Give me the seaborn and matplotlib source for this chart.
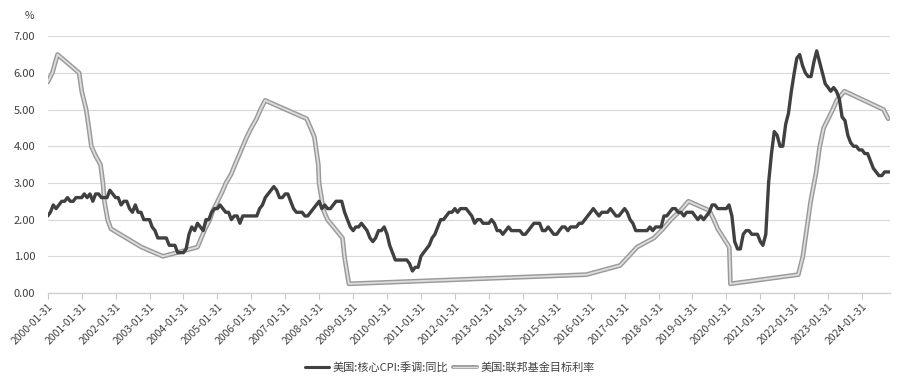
import matplotlib
matplotlib.use("Agg")
import matplotlib.pyplot as plt
from matplotlib.lines import Line2D
import matplotlib.patheffects as pe
import numpy as np
import pandas as pd
import seaborn as sns

sns.set_theme(style="white")
plt.rcParams["font.family"] = ["Noto Sans CJK SC", "DejaVu Sans"]

# ── core CPI YoY (seasonally adjusted), monthly 2000-01 .. 2024-11 ──────────
cpi_by_year = {
    2000: [2.1, 2.2, 2.4, 2.3, 2.4, 2.5, 2.5, 2.6, 2.5, 2.5, 2.6, 2.6],
    2001: [2.6, 2.7, 2.6, 2.7, 2.5, 2.7, 2.7, 2.6, 2.6, 2.6, 2.8, 2.7],
    2002: [2.6, 2.6, 2.4, 2.5, 2.5, 2.3, 2.2, 2.4, 2.2, 2.2, 2.0, 2.0],
    2003: [2.0, 1.8, 1.7, 1.5, 1.5, 1.5, 1.5, 1.3, 1.3, 1.3, 1.1, 1.1],
    2004: [1.1, 1.2, 1.6, 1.8, 1.7, 1.9, 1.8, 1.7, 2.0, 2.0, 2.2, 2.3],
    2005: [2.3, 2.4, 2.3, 2.2, 2.2, 2.0, 2.1, 2.1, 1.9, 2.1, 2.1, 2.1],
    2006: [2.1, 2.1, 2.1, 2.3, 2.4, 2.6, 2.7, 2.8, 2.9, 2.8, 2.6, 2.6],
    2007: [2.7, 2.7, 2.5, 2.3, 2.2, 2.2, 2.2, 2.1, 2.1, 2.2, 2.3, 2.4],
    2008: [2.5, 2.3, 2.4, 2.3, 2.3, 2.4, 2.5, 2.5, 2.5, 2.2, 2.0, 1.8],
    2009: [1.7, 1.8, 1.8, 1.9, 1.8, 1.7, 1.5, 1.4, 1.5, 1.7, 1.7, 1.8],
    2010: [1.6, 1.3, 1.1, 0.9, 0.9, 0.9, 0.9, 0.9, 0.8, 0.6, 0.7, 0.7],
    2011: [1.0, 1.1, 1.2, 1.3, 1.5, 1.6, 1.8, 2.0, 2.0, 2.1, 2.2, 2.2],
    2012: [2.3, 2.2, 2.3, 2.3, 2.3, 2.2, 2.1, 1.9, 2.0, 2.0, 1.9, 1.9],
    2013: [1.9, 2.0, 1.9, 1.7, 1.7, 1.6, 1.7, 1.8, 1.7, 1.7, 1.7, 1.7],
    2014: [1.6, 1.6, 1.7, 1.8, 1.9, 1.9, 1.9, 1.7, 1.7, 1.8, 1.7, 1.6],
    2015: [1.6, 1.7, 1.8, 1.8, 1.7, 1.8, 1.8, 1.8, 1.9, 1.9, 2.0, 2.1],
    2016: [2.2, 2.3, 2.2, 2.1, 2.2, 2.2, 2.2, 2.3, 2.2, 2.1, 2.1, 2.2],
    2017: [2.3, 2.2, 2.0, 1.9, 1.7, 1.7, 1.7, 1.7, 1.7, 1.8, 1.7, 1.8],
    2018: [1.8, 1.8, 2.1, 2.1, 2.2, 2.3, 2.3, 2.2, 2.2, 2.1, 2.2, 2.2],
    2019: [2.2, 2.1, 2.0, 2.1, 2.0, 2.1, 2.2, 2.4, 2.4, 2.3, 2.3, 2.3],
    2020: [2.3, 2.4, 2.1, 1.4, 1.2, 1.2, 1.6, 1.7, 1.7, 1.6, 1.6, 1.6],
    2021: [1.4, 1.3, 1.6, 3.0, 3.8, 4.4, 4.3, 4.0, 4.0, 4.6, 4.9, 5.5],
    2022: [6.0, 6.4, 6.5, 6.2, 6.0, 5.9, 5.9, 6.3, 6.6, 6.3, 6.0, 5.7],
    2023: [5.6, 5.5, 5.6, 5.5, 5.3, 4.8, 4.7, 4.3, 4.1, 4.0, 4.0, 3.9],
    2024: [3.9, 3.8, 3.8, 3.6, 3.4, 3.3, 3.2, 3.2, 3.3, 3.3, 3.3],
}
cpi_values = [v for y in sorted(cpi_by_year) for v in cpi_by_year[y]]
cpi_dates = pd.date_range("2000-01-31", periods=len(cpi_values), freq="ME")

# ── fed funds target rate (upper bound), at change dates ────────────────────
fed_dates = [
    "2000-01-31", "2000-03-21", "2000-05-16", "2001-01-03", "2001-01-31",
    "2001-03-20", "2001-04-18", "2001-05-15", "2001-06-27", "2001-08-21",
    "2001-09-17", "2001-10-02", "2001-11-06", "2001-12-11", "2002-11-06",
    "2003-06-25", "2004-06-30", "2004-08-10", "2004-09-21", "2004-11-10",
    "2004-12-14", "2005-02-02", "2005-03-22", "2005-05-03", "2005-06-30",
    "2005-08-09", "2005-09-20", "2005-11-01", "2005-12-13", "2006-01-31",
    "2006-03-28", "2006-05-10", "2006-06-29", "2007-09-18", "2007-10-31",
    "2007-12-11", "2008-01-22", "2008-01-30", "2008-03-18", "2008-04-30",
    "2008-10-08", "2008-10-29", "2008-12-16", "2015-12-16", "2016-12-14",
    "2017-03-15", "2017-06-14", "2017-12-13", "2018-03-21", "2018-06-13",
    "2018-09-26", "2018-12-19", "2019-07-31", "2019-09-18", "2019-10-30",
    "2020-03-03", "2020-03-15", "2022-03-16", "2022-05-04", "2022-06-15",
    "2022-07-27", "2022-09-21", "2022-11-02", "2022-12-14", "2023-02-01",
    "2023-03-22", "2023-05-03", "2023-07-26", "2024-09-18", "2024-11-07",
]
fed_values = [
    5.75, 6.00, 6.50, 6.00, 5.50,
    5.00, 4.50, 4.00, 3.75, 3.50,
    3.00, 2.50, 2.00, 1.75, 1.25,
    1.00, 1.25, 1.50, 1.75, 2.00,
    2.25, 2.50, 2.75, 3.00, 3.25,
    3.50, 3.75, 4.00, 4.25, 4.50,
    4.75, 5.00, 5.25, 4.75, 4.50,
    4.25, 3.50, 3.00, 2.25, 2.00,
    1.50, 1.00, 0.25, 0.50, 0.75,
    1.00, 1.25, 1.50, 1.75, 2.00,
    2.25, 2.50, 2.25, 2.00, 1.75,
    1.25, 0.25, 0.50, 1.00, 1.75,
    2.50, 3.25, 4.00, 4.50, 4.75,
    5.00, 5.25, 5.50, 5.00, 4.75,
]

CPI_LABEL = "美国:核心CPI:季调:同比"
FED_LABEL = "美国:联邦基金目标利率"

cpi_df = pd.DataFrame({"date": cpi_dates, "value": cpi_values})
fed_df = pd.DataFrame({"date": pd.to_datetime(fed_dates), "value": fed_values})

fig = plt.figure(figsize=(9, 3.85), dpi=100)
ax = fig.add_axes([0.053, 0.239, 0.936, 0.667])

# fed rate: grey outline with a light core (double-line look)
sns.lineplot(data=fed_df, x="date", y="value", ax=ax, color="#9a9a9a",
             linewidth=3.4, zorder=2)
sns.lineplot(data=fed_df, x="date", y="value", ax=ax, color="#dedede",
             linewidth=1.3, zorder=3)
sns.lineplot(data=cpi_df, x="date", y="value", ax=ax, color="#404040",
             linewidth=2.4, zorder=4)

ax.set_ylim(0, 7)
ax.set_yticks(np.arange(0, 7.01, 1))
ax.yaxis.set_major_formatter(matplotlib.ticker.FormatStrFormatter("%.2f"))
ax.set_xlim(pd.Timestamp("2000-01-31"), pd.Timestamp("2024-11-28"))

year_ticks = [pd.Timestamp(f"{y}-01-31") for y in range(2000, 2025)]
ax.set_xticks(year_ticks)
ax.set_xticklabels([t.strftime("%Y-%m-%d") for t in year_ticks],
                   rotation=45, ha="right", rotation_mode="anchor")

ax.grid(axis="y", color="#d9d9d9", linewidth=0.8)
ax.grid(axis="x", visible=False)
for side in ("top", "right", "left"):
    ax.spines[side].set_visible(False)
ax.spines["bottom"].set_color("#d0d0d0")
ax.spines["bottom"].set_linewidth(1.0)
ax.tick_params(axis="x", bottom=True, length=4, width=0.8, color="#c8c8c8",
               labelsize=7.5, labelcolor="#404040", pad=2)
ax.tick_params(axis="y", left=False, labelsize=8, labelcolor="#404040", pad=3)
ax.set_xlabel("")
ax.set_ylabel("")

fig.text(0.033, 0.958, "%", fontsize=7.5, color="#404040", ha="center", va="center")

handles = [
    Line2D([0], [0], color="#404040", linewidth=2.2),
    Line2D([0], [0], color="#dedede", linewidth=1.0,
           path_effects=[pe.Stroke(linewidth=2.8, foreground="#9a9a9a"), pe.Normal()]),
]
fig.legend(handles, [CPI_LABEL, FED_LABEL], loc="center", ncol=2,
           bbox_to_anchor=(0.5, 0.045), frameon=False, fontsize=8,
           handlelength=2.2, handletextpad=0.3, columnspacing=0.4,
           labelcolor="#404040")

fig.savefig("out.png", dpi=100)
